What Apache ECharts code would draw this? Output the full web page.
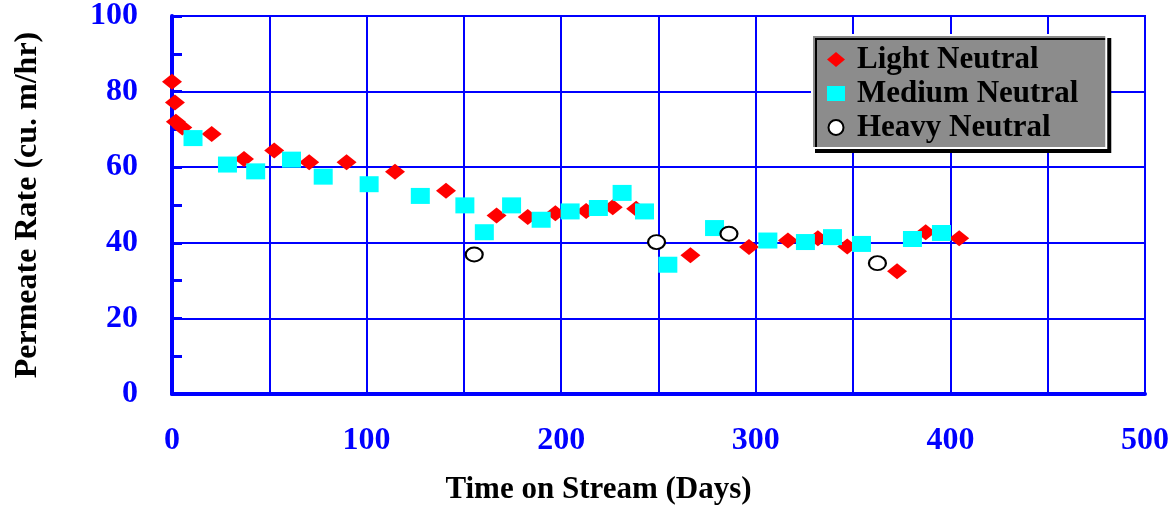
<!DOCTYPE html>
<html>
<head>
<meta charset="utf-8">
<script src="https://cdn.jsdelivr.net/npm/echarts@6/dist/echarts.min.js"></script>
<style>
  html, body { margin: 0; padding: 0; background: #fff; }
  #chart { width: 1172px; height: 510px; }
</style>
</head>
<body>
<div id="chart"></div>
<script>
// values: [days, permeate rate]
var lightNeutral = [
  [0, 82.6], [1.5, 77.1], [2, 72], [5.3, 70.5], [20.4, 68.8], [37, 62.2],
  [52.5, 64.4], [70.5, 61.3], [89.7, 61.3], [114.6, 58.8], [140.8, 53.8],
  [166.8, 47.2], [182.8, 46.8], [197, 47.8], [212.8, 48.4], [226.5, 49.4],
  [238.5, 49], [266.4, 36.7], [296.5, 38.9], [316.5, 40.6], [331.9, 41.2],
  [347, 39], [372.6, 32.5], [387.3, 42.8], [404.5, 41.2]
]
var mediumNeutral = [
  [10.8, 67.7], [28.5, 60.7], [43, 58.9], [61.4, 62], [77.7, 57.5],
  [101.3, 55.5], [127.6, 52.4], [150.5, 49.9], [160.5, 42.8], [174.5, 49.9],
  [189.7, 46.1], [204.6, 48.3], [219.1, 49.2], [231.3, 53.2], [242.8, 48.3],
  [254.8, 34.2], [278.8, 43.9], [306.2, 40.6], [325.5, 40.2], [339.4, 41.5],
  [354.3, 39.7], [380.5, 41], [395.4, 42.6]
]
var heavyNeutral = [
  [155.3, 36.9], [249, 40.2], [286.2, 42.4], [362.5, 34.6]
]
var seriesNames = ['Light Neutral', 'Medium Neutral', 'Heavy Neutral']

var chart = echarts.init(document.getElementById('chart'))
var serif = 'Liberation Serif'
var blue = '#0000ff'

var option = {
  animation: false,
  grid: {
    left: 172, right: 26, top: 15, bottom: 116,
    show: true, borderColor: blue, borderWidth: 2
  },
  legend: {
    left: 812, top: 35,
    orient: 'vertical',
    backgroundColor: '#8c8c8c',
    borderColor: '#fff', borderWidth: 2, borderRadius: 0,
    shadowColor: '#000', shadowOffsetX: 4, shadowOffsetY: 4, shadowBlur: 0,
    padding: [9, 28, 5, 15],
    itemGap: 3, itemWidth: 18, itemHeight: 15,
    textStyle: { fontFamily: serif, fontWeight: 'bold', fontSize: 31, color: '#000', padding: [0, 0, 0, 7] },
    data: seriesNames
  },
  xAxis: {
    type: 'value', min: 0, max: 500, interval: 50,
    name: 'Time on Stream (Days)', nameLocation: 'middle', nameGap: 80,
    nameTextStyle: { fontFamily: serif, fontWeight: 'bold', fontSize: 31, color: '#000', padding: [0, 120, 0, 0] },
    axisLine: { lineStyle: { color: blue, width: 4 } },
    axisTick: { inside: true, length: 6, lineStyle: { color: blue, width: 2 } },
    axisLabel: {
      margin: 31, fontFamily: serif, fontWeight: 'bold', fontSize: 32, color: blue,
      formatter: function (v) { return v % 100 === 0 ? v : '' }
    },
    splitLine: { lineStyle: { color: blue, width: 2 } }
  },
  yAxis: {
    type: 'value', min: 0, max: 100, interval: 20,
    name: 'Permeate Rate (cu. m/hr)', nameLocation: 'middle', nameGap: 128,
    nameTextStyle: { fontFamily: serif, fontWeight: 'bold', fontSize: 32, color: '#000' },
    axisLine: { lineStyle: { color: blue, width: 4 } },
    axisTick: { inside: true, length: 10, lineStyle: { color: blue, width: 3 } },
    minorTick: { show: true, splitNumber: 2, length: 10, lineStyle: { color: blue, width: 3 } },
    axisLabel: { margin: 34, padding: [6, 0, 0, 0], fontFamily: serif, fontWeight: 'bold', fontSize: 32, color: blue },
    splitLine: { lineStyle: { color: blue, width: 2 } }
  },
  series: [
    {
      name: seriesNames[0], type: 'scatter', data: lightNeutral,
      symbol: 'diamond', symbolSize: [20, 16],
      itemStyle: { color: '#ff0000', opacity: 1 }
    },
    {
      name: seriesNames[1], type: 'scatter', data: mediumNeutral,
      symbol: 'rect', symbolSize: [19, 16],
      itemStyle: { color: '#00ffff', opacity: 1 }
    },
    {
      name: seriesNames[2], type: 'scatter', data: heavyNeutral,
      symbol: 'circle', symbolSize: [17, 14],
      itemStyle: { color: '#fff', borderColor: '#000', borderWidth: 2, opacity: 1 }
    }
  ]
}
option && chart.setOption(option)
</script>
</body>
</html>
